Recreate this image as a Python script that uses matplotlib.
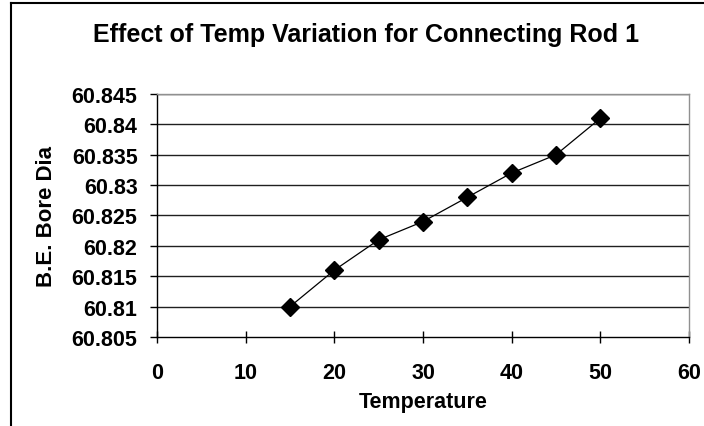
import matplotlib.pyplot as plt
import matplotlib.lines as mlines

# data
temp = [15, 20, 25, 30, 35, 40, 45, 50]
bore_dia = [60.810, 60.816, 60.821, 60.824, 60.828, 60.832, 60.835, 60.841]
xticks = [0, 10, 20, 30, 40, 50, 60]
yticks = [60.805, 60.81, 60.815, 60.82, 60.825, 60.83, 60.835, 60.84, 60.845]
ytick_labels = ['60.805', '60.81', '60.815', '60.82', '60.825', '60.83', '60.835', '60.84', '60.845']

plt.rcParams['font.family'] = ['Liberation Sans', 'DejaVu Sans']
plt.rcParams['font.weight'] = 'bold'

W, H = 704, 427
fig = plt.figure(figsize=(W/100, H/100), dpi=100)
ax = fig.add_axes([157/W, 1-338/H, (689-157)/W, (338-95)/H])

for y in yticks[1:]:
    ax.axhline(y, color='#202020', lw=1.0, zorder=1)
ax.plot(temp, bore_dia, color='black', lw=0.9, marker='D', ms=9, mfc='black', mec='black', zorder=3)

ax.set_xlim(0, 60)
ax.set_ylim(60.805, 60.845)
ax.set_xticks(xticks)
ax.set_xticklabels([str(x) for x in xticks])
ax.set_yticks(yticks)
ax.set_yticklabels(ytick_labels)
ax.tick_params(axis='x', direction='inout', length=8, width=1, pad=14, labelsize=15.5)
ax.tick_params(axis='y', direction='out', length=5, width=1, pad=9, labelsize=15.5)

for s in ['left', 'bottom']:
    ax.spines[s].set_color('black')
    ax.spines[s].set_linewidth(1.0)
for s in ['top', 'right']:
    ax.spines[s].set_color('#909090')
    ax.spines[s].set_linewidth(1.0)

ax.set_xlabel('Temperature', fontsize=15.5, fontweight='bold', va='center')
ax.set_ylabel('B.E. Bore Dia', fontsize=16, fontweight='bold', va='center')
ax.xaxis.set_label_coords(0.5, -(403-338)/243)
ax.yaxis.set_label_coords((46-157)/532, 0.5)
fig.text(366/W, 1-35/H, 'Effect of Temp Variation for Connecting Rod 1', ha='center', va='center',
         fontsize=18, fontweight='bold')

# outer chart border (left and top only visible)
fig.add_artist(mlines.Line2D([10.5/W, 10.5/W], [0, 1-3.5/H], color='black', lw=1.5, transform=fig.transFigure))
fig.add_artist(mlines.Line2D([10.5/W, 1], [1-3.5/H, 1-3.5/H], color='black', lw=1.5, transform=fig.transFigure))

plt.savefig('out.png', dpi=100)
